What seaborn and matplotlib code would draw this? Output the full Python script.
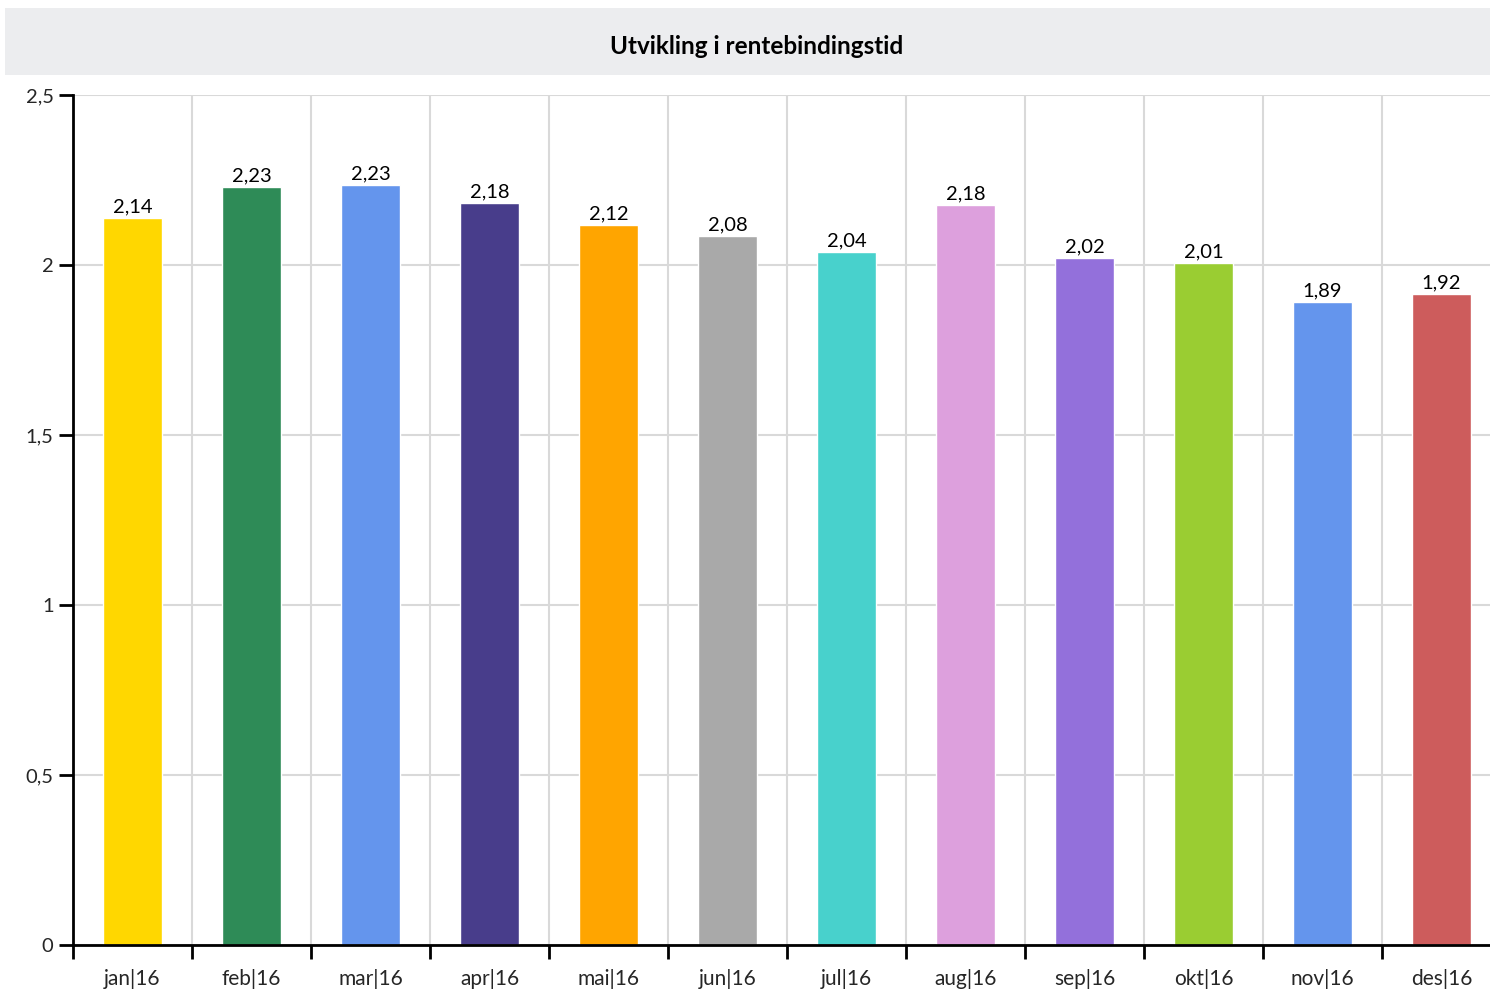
import matplotlib
matplotlib.use("Agg")
import matplotlib.pyplot as plt
import matplotlib.ticker as mticker
from matplotlib.patches import Rectangle
import seaborn as sns
import pandas as pd
import numpy as np

# values
months = ["jan|16", "feb|16", "mar|16", "apr|16", "mai|16", "jun|16",
          "jul|16", "aug|16", "sep|16", "okt|16", "nov|16", "des|16"]
values = [2.138, 2.229, 2.235, 2.182, 2.118, 2.085,
          2.038, 2.176, 2.020, 2.006, 1.891, 1.915]
bar_colors = ["#FFD700", "#2E8B57", "#6495ED", "#483D8B", "#FFA500", "#A9A9A9",
              "#48D1CC", "#DDA0DD", "#9370DB", "#9ACD32", "#6495ED", "#CD5C5C"]
title = "Utvikling i rentebindingstid"

sns.set_theme(style="white")
plt.rcParams['font.family'] = ['Lato', 'DejaVu Sans']

df = pd.DataFrame({"month": months, "value": values})

fig = plt.figure(figsize=(14.9, 9.91), dpi=100)
# the plot area runs a little past the right edge of the image
ax = fig.add_axes([73 / 1490, 1 - 945 / 991, (1501 - 73) / 1490, (945 - 95) / 991])

# grey title band
fig.patches.append(Rectangle((5 / 1490, 1 - 75 / 991), 1 - 5 / 1490, 67 / 991,
                             transform=fig.transFigure, facecolor="#ECEDEF",
                             edgecolor="none", zorder=0))
fig.text(757 / 1490, 1 - 46 / 991, title, ha="center", va="center",
         fontsize=17.5, fontweight="bold", color="black")

sns.barplot(data=df, x="month", y="value", hue="month", palette=bar_colors,
            legend=False, width=0.5, saturation=1, ax=ax, zorder=3)

for cont in ax.containers:
    ax.bar_label(cont, labels=[f"{v:.2f}".replace(".", ",") for v in cont.datavalues],
                 padding=2, fontsize=14.5, color="black")

ax.set_ylim(0, 2.5)
ax.set_xlim(-0.5, len(months) - 0.5)
ax.set_yticks(np.arange(0, 2.51, 0.5))
ax.yaxis.set_major_formatter(mticker.FuncFormatter(
    lambda v, p: (f"{v:g}").replace(".", ",")))
ax.set_xticks(range(len(months)))
ax.set_xticklabels(months)
ax.set_xticks(np.arange(-0.5, len(months), 1.0), minor=True)
ax.tick_params(axis="x", which="major", length=0, pad=17, labelsize=15)
ax.tick_params(axis="x", which="minor", length=10, width=2, direction="out",
               color="black", bottom=True)
ax.tick_params(axis="y", which="major", length=10, width=2, direction="out",
               color="black", left=True, labelsize=14.5, pad=4)
ax.set_xlabel("")
ax.set_ylabel("")

ax.grid(axis="y", which="major", color="#D9D9D9", linewidth=1.5, zorder=0)
ax.grid(axis="x", which="minor", color="#D9D9D9", linewidth=1.5, zorder=0)
ax.grid(axis="x", which="major", visible=False)
ax.set_axisbelow(True)

for side in ["top", "right"]:
    ax.spines[side].set_visible(False)
ax.spines["left"].set_color("black")
ax.spines["left"].set_linewidth(2)
ax.spines["bottom"].set_color("black")
ax.spines["bottom"].set_linewidth(2)
ax.spines["left"].set_zorder(5)
ax.spines["bottom"].set_zorder(5)

fig.savefig("out.png", dpi=100)
